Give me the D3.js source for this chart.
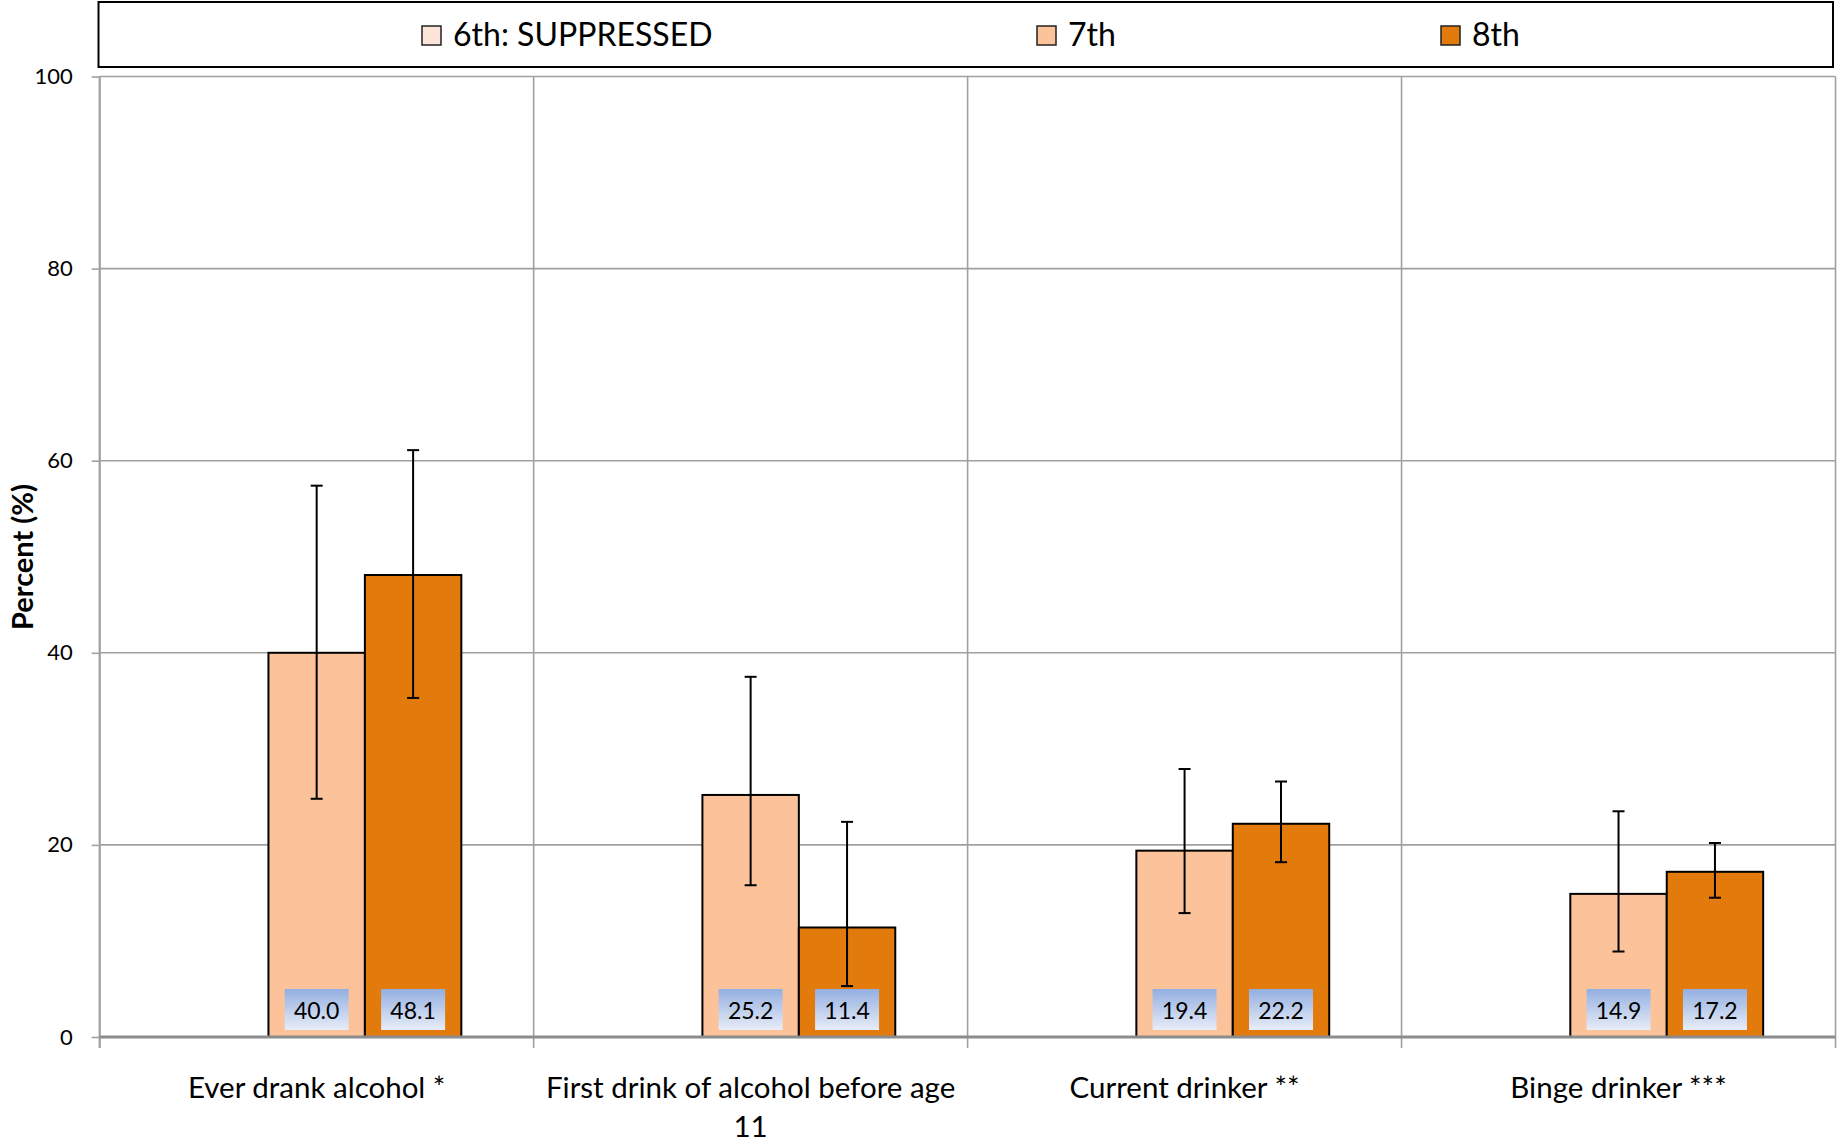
<!DOCTYPE html>
<html>
<head>
<meta charset="utf-8">
<script src="https://cdn.jsdelivr.net/npm/d3@7"></script>
<style>
  html, body { margin: 0; padding: 0; background: #fff; }
  svg { display: block; }
  text { font-family: Lato, "Open Sans", sans-serif; fill: #000; }
</style>
</head>
<body>
<svg id="chart" width="1839" height="1144"></svg>
<script>
// ---- data ----
const categories = ["Ever drank alcohol *", "First drink of alcohol before age 11", "Current drinker **", "Binge drinker ***"];
const seriesNames = ["6th: SUPPRESSED", "7th", "8th"];
const values6 = [null, null, null, null];
const values7 = [40.0, 25.2, 19.4, 14.9];
const values8 = [48.1, 11.4, 22.2, 17.2];
const ciLow6 = [null, null, null, null];
const ciHigh6 = [null, null, null, null];
const ciLow7 = [24.8, 15.8, 12.9, 8.9];
const ciHigh7 = [57.4, 37.5, 27.9, 23.5];
const ciLow8 = [35.3, 5.3, 18.2, 14.5];
const ciHigh8 = [61.1, 22.4, 26.6, 20.2];
const yTicks = [0, 20, 40, 60, 80, 100];
const seriesColors = ["#fde4d9", "#fcc39b", "#e27b0b"];

const seriesValues = [values6, values7, values8];
const seriesLow = [ciLow6, ciLow7, ciLow8];
const seriesHigh = [ciHigh6, ciHigh7, ciHigh8];

// ---- layout ----
const svg = d3.select("#chart");
const plot = { left: 99.7, right: 1835.5, top: 76.5, bottom: 1037 };

const x0 = d3.scaleBand().domain(categories).range([plot.left, plot.right]).paddingInner(0).paddingOuter(0);
const bw = x0.bandwidth();
const gapW = 1.5; // Excel gap width 150%
const barW = bw / (seriesNames.length + gapW);
const x1 = d3.scaleBand().domain(seriesNames)
  .range([barW * gapW / 2, bw - barW * gapW / 2]).paddingInner(0).paddingOuter(0);
const y = d3.scaleLinear().domain([0, 100]).range([plot.bottom, plot.top]);

// gradient for value labels
const defs = svg.append("defs");
const grad = defs.append("linearGradient").attr("id", "lblGrad")
  .attr("x1", 0).attr("y1", 0).attr("x2", 0).attr("y2", 1);
grad.append("stop").attr("offset", "0%").attr("stop-color", "#93afe0");
grad.append("stop").attr("offset", "100%").attr("stop-color", "#e8edf8");

// horizontal gridlines
svg.append("g").selectAll("line").data(yTicks.filter(d => d !== 0)).join("line")
  .attr("x1", plot.left).attr("x2", plot.right)
  .attr("y1", d => y(d)).attr("y2", d => y(d))
  .attr("stroke", "#a0a0a0").attr("stroke-width", 1.6);

// vertical category dividers (extend below axis as ticks)
const dividers = categories.map(c => x0(c) + bw).concat([plot.left]);
svg.append("g").selectAll("line").data(dividers).join("line")
  .attr("x1", d => d).attr("x2", d => d)
  .attr("y1", plot.top).attr("y2", plot.bottom + 11)
  .attr("stroke", "#a0a0a0").attr("stroke-width", 1.6);

// y axis
const yAxis = d3.axisLeft(y).tickValues(yTicks).tickSize(8).tickPadding(19).tickFormat(d3.format("d"));
const yg = svg.append("g").attr("transform", `translate(${plot.left},0)`).call(yAxis);
yg.select(".domain").attr("stroke", "#a0a0a0").attr("stroke-width", 2)
  .attr("d", `M0,${plot.top}V${plot.bottom + 11}`);
yg.selectAll(".tick line").attr("stroke", "#a0a0a0").attr("stroke-width", 1.6);
yg.selectAll(".tick text").attr("font-family", "Lato, sans-serif").attr("font-size", 22).attr("fill", "#000");

// bars
const groups = svg.append("g").selectAll("g").data(categories).join("g")
  .attr("transform", c => `translate(${x0(c)},0)`);

seriesNames.forEach((s, si) => {
  const vals = seriesValues[si];
  groups.each(function(c, ci) {
    const v = vals[ci];
    if (v == null) return;
    d3.select(this).append("rect")
      .attr("x", x1(s)).attr("width", x1.bandwidth())
      .attr("y", y(v)).attr("height", y(0) - y(v))
      .attr("fill", seriesColors[si]).attr("stroke", "#000").attr("stroke-width", 2);
  });
});

// x axis line at 0
svg.append("line").attr("x1", plot.left).attr("x2", plot.right)
  .attr("y1", y(0)).attr("y2", y(0)).attr("stroke", "#8c8c8c").attr("stroke-width", 3);

// error bars
seriesNames.forEach((s, si) => {
  groups.each(function(c, ci) {
    const lo = seriesLow[si][ci], hi = seriesHigh[si][ci];
    if (lo == null || hi == null) return;
    const cx = x1(s) + x1.bandwidth() / 2;
    const g = d3.select(this).append("g").attr("stroke", "#000").attr("stroke-width", 2);
    g.append("line").attr("x1", cx).attr("x2", cx).attr("y1", y(hi)).attr("y2", y(lo));
    g.append("line").attr("x1", cx - 6).attr("x2", cx + 6).attr("y1", y(hi)).attr("y2", y(hi));
    g.append("line").attr("x1", cx - 6).attr("x2", cx + 6).attr("y1", y(lo)).attr("y2", y(lo));
  });
});

// value labels
const lblW = 64, lblH = 41, lblGap = 7;
seriesNames.forEach((s, si) => {
  groups.each(function(c, ci) {
    const v = seriesValues[si][ci];
    if (v == null) return;
    const cx = x1(s) + x1.bandwidth() / 2;
    const g = d3.select(this).append("g");
    g.append("rect").attr("x", cx - lblW / 2).attr("y", y(0) - lblGap - lblH)
      .attr("width", lblW).attr("height", lblH).attr("fill", "url(#lblGrad)");
    g.append("text").attr("x", cx).attr("y", y(0) - lblGap - lblH / 2)
      .attr("text-anchor", "middle").attr("dominant-baseline", "central")
      .attr("font-size", 23).text(d3.format(".1f")(v));
  });
});

// category labels (wrapped like the original)
const catLines = categories.map(c => c === "First drink of alcohol before age 11"
  ? ["First drink of alcohol before age", "11"] : [c]);
categories.forEach((c, ci) => {
  const t = svg.append("text").attr("text-anchor", "middle").attr("font-size", 29.5)
    .attr("x", x0(c) + bw / 2).attr("y", 1098);
  catLines[ci].forEach((ln, li) => {
    t.append("tspan").attr("x", x0(c) + bw / 2).attr("dy", li === 0 ? 0 : 39).text(ln);
  });
});

// y title
svg.append("text").attr("transform", "translate(21,557) rotate(-90)")
  .attr("text-anchor", "middle").attr("dominant-baseline", "central")
  .attr("font-size", 29).attr("font-weight", "bold").text("Percent (%)");

// legend
svg.append("rect").attr("x", 98.5).attr("y", 2).attr("width", 1734.5).attr("height", 65)
  .attr("fill", "#fff").attr("stroke", "#000").attr("stroke-width", 2);
const legendX = [422, 1037, 1441];
const lg = svg.append("g").selectAll("g").data(seriesNames).join("g")
  .attr("transform", (d, i) => `translate(${legendX[i]},0)`);
lg.append("rect").attr("x", 0).attr("y", 26).attr("width", 19).attr("height", 19)
  .attr("fill", (d, i) => seriesColors[i]).attr("stroke", "#222").attr("stroke-width", 1.5);
lg.append("text").attr("x", 31).attr("y", 46).attr("font-size", 32).text(d => d);
</script>
</body>
</html>
